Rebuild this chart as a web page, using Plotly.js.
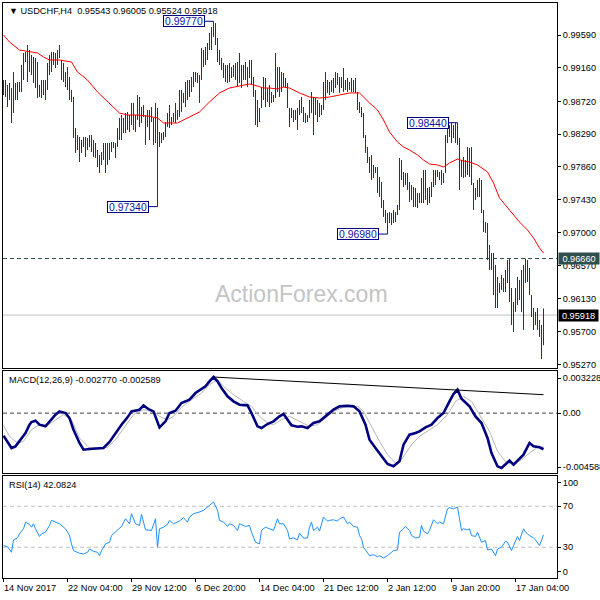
<!DOCTYPE html>
<html><head><meta charset="utf-8">
<script src="https://cdn.plot.ly/plotly-3.0.1.min.js"></script>
<style>html,body{margin:0;padding:0;background:#fff}#chart{width:600px;height:600px}</style>
</head><body><div id="chart"></div>
<script>
// USDCHF H4 bars (high/low; bars drawn as plain high-low lines)
const highs=[
0.99000,0.99000,0.98935,0.98961,0.98895,0.99105,0.98961,0.98974,0.98974,0.99197,
0.99354,0.99367,0.99459,0.99393,0.99328,0.99302,0.99288,0.99236,0.98935,0.99000,
0.99000,0.99000,0.99223,0.99328,0.99367,0.99367,0.99354,0.99393,0.99459,0.99262,
0.99223,0.99105,0.99170,0.99039,0.98869,0.98777,0.98371,0.98279,0.98253,0.98213,
0.98253,0.98253,0.98240,0.98279,0.98279,0.98213,0.98174,0.98082,0.98017,0.98056,
0.98174,0.98174,0.98174,0.98174,0.98187,0.98187,0.98174,0.98371,0.98502,0.98541,
0.98502,0.98567,0.98581,0.98541,0.98699,0.98699,0.98541,0.98803,0.98777,0.98646,
0.98672,0.98541,0.98607,0.98607,0.98646,0.98502,0.98699,0.98633,0.98318,0.98305,
0.98318,0.98449,0.98567,0.98672,0.98515,0.98567,0.98699,0.98607,0.98869,0.98869,
0.98830,0.98974,0.99000,0.99000,0.99039,0.99105,0.99105,0.99092,0.99066,0.99420,
0.99393,0.99433,0.99485,0.99616,0.99695,0.99770,0.99747,0.99551,0.99393,0.99288,
0.99223,0.99197,0.99197,0.99223,0.99170,0.99197,0.99223,0.99236,0.99354,0.99197,
0.99197,0.99236,0.99170,0.99262,0.99262,0.99039,0.98869,0.98738,0.98633,0.98908,
0.99039,0.99026,0.98895,0.98935,0.98843,0.98803,0.99354,0.99170,0.99170,0.99105,
0.99092,0.99026,0.98961,0.98633,0.98633,0.98607,0.98607,0.98633,0.98738,0.98777,
0.98646,0.98567,0.98541,0.98738,0.98843,0.98777,0.98764,0.98738,0.98699,0.98672,
0.98974,0.99105,0.99000,0.98974,0.99000,0.99026,0.99105,0.99092,0.99039,0.99039,
0.99157,0.99000,0.99026,0.98974,0.99026,0.99000,0.99026,0.98843,0.98712,0.98646,
0.98567,0.98279,0.98122,0.97991,0.98017,0.97886,0.97859,0.97859,0.97728,0.97663,
0.97427,0.97296,0.97256,0.97269,0.97256,0.97296,0.97269,0.97361,0.97977,0.97951,
0.97794,0.97781,0.97781,0.97663,0.97623,0.97597,0.97584,0.97519,0.97519,0.97715,
0.97820,0.97820,0.97584,0.97597,0.97663,0.97820,0.97820,0.97820,0.97794,0.97820,
0.97781,0.98279,0.98410,0.98410,0.98436,0.98410,0.98436,0.98440,0.98240,0.97951,
0.97991,0.97951,0.98122,0.98109,0.98122,0.97650,0.97584,0.97689,0.97715,0.97689,
0.97296,0.97138,0.97125,0.96837,0.96732,0.96732,0.96575,0.96417,0.96339,0.96444,
0.96404,0.96509,0.96640,0.96660,0.96273,0.96090,0.96273,0.96417,0.96378,0.96509,
0.96575,0.96660,0.96640,0.96536,0.96181,0.96011,0.95959,0.96011,0.95854,0.95788,
0.96005];
const lows=[
0.98803,0.98777,0.98646,0.98738,0.98436,0.98567,0.98738,0.98738,0.98843,0.98843,
0.99000,0.99236,0.98974,0.99105,0.99066,0.98961,0.98895,0.98764,0.98777,0.98764,
0.98803,0.98738,0.98869,0.99066,0.99105,0.99197,0.99157,0.99197,0.99288,0.99000,
0.98974,0.98908,0.98869,0.98738,0.98712,0.98240,0.98043,0.98082,0.97925,0.98043,
0.98122,0.97991,0.98082,0.98122,0.98056,0.97991,0.97977,0.97859,0.97781,0.97886,
0.97951,0.97781,0.97886,0.97951,0.98056,0.98109,0.97977,0.98122,0.98213,0.98213,
0.98305,0.98305,0.98345,0.98318,0.98410,0.98345,0.98318,0.98476,0.98384,0.98436,
0.98515,0.98148,0.98384,0.98213,0.98449,0.98148,0.98174,0.97340,0.98122,0.98174,
0.98213,0.98253,0.98384,0.98371,0.98410,0.98449,0.98436,0.98476,0.98515,0.98581,
0.98699,0.98646,0.98738,0.98777,0.98843,0.98908,0.98974,0.98961,0.98699,0.99000,
0.99170,0.99197,0.99262,0.99393,0.99393,0.99564,0.99459,0.99236,0.99197,0.99131,
0.99026,0.98974,0.98961,0.98974,0.99026,0.99039,0.99000,0.98908,0.98961,0.98895,
0.99000,0.99000,0.98908,0.99026,0.98935,0.98777,0.98410,0.98384,0.98449,0.98633,
0.98738,0.98646,0.98712,0.98646,0.98699,0.98712,0.98764,0.98843,0.98777,0.98843,
0.98908,0.98895,0.98633,0.98384,0.98502,0.98449,0.98476,0.98345,0.98541,0.98567,
0.98449,0.98436,0.98449,0.98502,0.98567,0.98279,0.98541,0.98449,0.98515,0.98541,
0.98607,0.98738,0.98830,0.98803,0.98843,0.98830,0.98895,0.98935,0.98830,0.98895,
0.98843,0.98869,0.98843,0.98869,0.98843,0.98843,0.98830,0.98607,0.98567,0.98515,
0.98240,0.98043,0.97912,0.97781,0.97689,0.97715,0.97781,0.97519,0.97466,0.97322,
0.97204,0.97125,0.96980,0.97125,0.97099,0.97125,0.97138,0.97230,0.97296,0.97689,
0.97597,0.97623,0.97558,0.97401,0.97427,0.97335,0.97335,0.97322,0.97387,0.97387,
0.97387,0.97427,0.97361,0.97387,0.97466,0.97597,0.97623,0.97728,0.97689,0.97623,
0.97650,0.97781,0.98174,0.98253,0.98174,0.98240,0.98174,0.98148,0.97558,0.97728,
0.97715,0.97728,0.97755,0.97728,0.97623,0.97296,0.97427,0.97466,0.97466,0.97256,
0.97007,0.96994,0.96640,0.96509,0.96509,0.96181,0.96011,0.96011,0.96208,0.96247,
0.96221,0.96221,0.96339,0.96090,0.95788,0.95697,0.95959,0.96050,0.96116,0.95959,
0.95723,0.96339,0.96352,0.96181,0.95893,0.95723,0.95788,0.95723,0.95631,0.95342,
0.95524];

// Moving average (red), sampled [bar, price]
const maPoints=[[0,0.99590],[3,0.99498],[8,0.99393],[13,0.99367],[17,0.99354],[20,0.99302],[23,0.99262],[28,0.99262],[32,0.99249],[34,0.99236],[37,0.99105],[42,0.99000],[47,0.98843],[52,0.98712],[55,0.98633],[58,0.98567],[62,0.98541],[67,0.98541],[72,0.98528],[77,0.98502],[80,0.98436],[83,0.98436],[87,0.98436],[89,0.98463],[93,0.98515],[98,0.98581],[103,0.98712],[108,0.98830],[113,0.98895],[118,0.98921],[123,0.98948],[127,0.98921],[130,0.98895],[133,0.98895],[137,0.98882],[140,0.98908],[143,0.98895],[148,0.98830],[153,0.98777],[158,0.98764],[163,0.98777],[168,0.98803],[173,0.98830],[178,0.98830],[180,0.98777],[183,0.98699],[187,0.98607],[190,0.98476],[193,0.98318],[197,0.98187],[200,0.98122],[203,0.98082],[207,0.98017],[210,0.97951],[213,0.97899],[217,0.97886],[220,0.97859],[223,0.97912],[227,0.97964],[230,0.97938],[233,0.97925],[237,0.97886],[242,0.97794],[245,0.97650],[248,0.97453],[253,0.97296],[258,0.97138],[262,0.97033],[265,0.96929],[268,0.96798],[270,0.96732]];

// MACD(12,26,9) main line, sampled [bar, value]
const macdPoints=[[0,-0.001728],[2,-0.002162],[4,-0.002673],[6,-0.002545],[8,-0.002162],[11,-0.001524],[13,-0.000886],[14,-0.000682],[16,-0.000580],[18,-0.000886],[21,-0.001014],[23,-0.000631],[26,-0.000120],[28,0.000135],[31,0.000008],[33,-0.000375],[35,-0.001269],[38,-0.002290],[40,-0.002801],[43,-0.002750],[47,-0.002724],[50,-0.002673],[53,-0.002213],[56,-0.001524],[59,-0.000886],[62,-0.000324],[64,0.000135],[68,0.000263],[70,0.000595],[73,0.000263],[75,0.000135],[78,-0.001090],[81,-0.000631],[83,0.000008],[86,0.000186],[89,0.000774],[93,0.001029],[96,0.001539],[98,0.001718],[101,0.002050],[103,0.002433],[105,0.002765],[107,0.002433],[109,0.001922],[112,0.001284],[115,0.000901],[118,0.000646],[122,0.000595],[124,0.000008],[127,-0.001014],[129,-0.001141],[132,-0.000835],[135,-0.000631],[138,-0.000248],[140,-0.000069],[142,-0.000503],[144,-0.000937],[147,-0.001039],[149,-0.001014],[152,-0.001141],[155,-0.000758],[158,-0.000631],[162,-0.000120],[165,0.000263],[168,0.000518],[172,0.000569],[175,0.000518],[178,0.000135],[181,-0.000886],[183,-0.002035],[186,-0.002673],[189,-0.003311],[192,-0.003898],[195,-0.004077],[198,-0.003694],[200,-0.002418],[203,-0.001652],[206,-0.001524],[208,-0.001396],[211,-0.001090],[214,-0.000886],[217,-0.000375],[220,0.000008],[223,0.000901],[225,0.001463],[227,0.001795],[229,0.001105],[233,0.000518],[236,-0.000248],[239,-0.000758],[242,-0.001907],[244,-0.003056],[247,-0.004077],[249,-0.004205],[253,-0.003643],[255,-0.003949],[258,-0.003439],[260,-0.003184],[263,-0.002290],[265,-0.002545],[268,-0.002622],[270,-0.002770]];

// MACD signal line, sampled [bar, value]
const signalPoints=[[0,-0.000937],[3,-0.001779],[7,-0.002290],[10,-0.002162],[14,-0.001269],[18,-0.000886],[22,-0.000937],[26,-0.000503],[30,-0.000120],[34,-0.000503],[38,-0.001907],[43,-0.002673],[48,-0.002673],[52,-0.002622],[56,-0.002035],[61,-0.001014],[65,-0.000120],[70,0.000263],[75,0.000135],[78,-0.000248],[82,-0.000503],[85,-0.000248],[89,0.000442],[94,0.001029],[99,0.001539],[103,0.002178],[107,0.002561],[110,0.002050],[115,0.001412],[120,0.000901],[124,0.000518],[128,-0.000248],[132,-0.000758],[135,-0.000886],[139,-0.000503],[143,-0.000248],[148,-0.000631],[153,-0.001014],[157,-0.000886],[161,-0.000375],[165,0.000135],[170,0.000442],[177,0.000518],[180,0.000135],[184,-0.001014],[188,-0.002162],[192,-0.003184],[196,-0.003822],[199,-0.003567],[204,-0.002418],[208,-0.001779],[212,-0.001396],[217,-0.000886],[222,-0.000120],[226,0.000901],[230,0.001284],[234,0.000901],[238,-0.000120],[243,-0.001396],[247,-0.002928],[251,-0.003694],[255,-0.003949],[259,-0.003567],[263,-0.003056],[267,-0.002622],[270,-0.002589]];

// MACD trend line drawn on the chart
const trendPoints=[[105,0.002765],[270,0.001412]];

// RSI(14), sampled [bar, value]
const rsiPoints=[[0,31.6],[2,30.6],[4,25.1],[5,37.2],[7,39.1],[8,43.1],[10,48.0],[11,54.5],[13,52.3],[14,49.6],[15,52.9],[16,48.0],[18,40.5],[19,43.1],[21,44.7],[23,51.3],[24,56.2],[26,54.5],[28,52.9],[31,48.0],[33,41.4],[34,33.3],[35,26.7],[38,24.1],[40,23.4],[42,25.1],[43,28.3],[45,26.0],[47,25.1],[48,21.8],[49,26.7],[51,33.3],[53,34.9],[54,41.4],[56,44.7],[58,48.0],[59,50.3],[61,57.8],[63,52.9],[64,62.7],[66,52.9],[68,51.3],[69,62.1],[71,47.0],[73,46.4],[74,46.4],[76,57.8],[77,30.0],[78,48.0],[80,49.6],[82,52.3],[83,56.2],[85,52.9],[87,54.5],[88,55.5],[90,58.8],[92,54.5],[93,59.5],[95,62.7],[98,64.4],[100,66.0],[103,70.9],[105,74.2],[107,66.0],[108,56.2],[110,54.5],[112,50.3],[113,52.9],[115,51.3],[117,46.4],[118,52.9],[121,50.3],[123,51.3],[124,44.7],[126,34.9],[128,33.3],[129,46.4],[131,49.6],[133,48.0],[135,46.4],[137,57.8],[138,52.9],[140,52.9],[142,46.4],[143,38.2],[145,39.1],[147,37.2],[148,43.7],[150,38.8],[152,39.1],[153,49.6],[154,54.5],[155,46.4],[157,49.6],[158,45.7],[160,59.5],[162,55.5],[163,56.2],[165,56.8],[167,55.5],[168,57.8],[170,59.5],[172,52.9],[173,54.5],[175,50.3],[177,49.6],[178,41.4],[179,38.2],[180,30.0],[182,25.1],[183,21.8],[185,22.8],[187,20.8],[188,21.8],[190,19.5],[192,21.8],[193,23.4],[195,26.7],[197,27.4],[198,44.7],[200,48.0],[201,50.3],[203,46.4],[204,41.4],[206,39.1],[208,39.8],[209,51.3],[210,45.7],[212,43.1],[213,46.4],[215,56.8],[217,52.9],[218,54.5],[220,52.9],[222,67.6],[223,68.6],[225,67.6],[227,69.3],[228,57.8],[229,46.4],[230,48.0],[232,47.0],[233,48.0],[234,41.4],[236,40.5],[237,44.7],[239,34.9],[241,36.5],[242,27.4],[244,28.3],[246,21.8],[247,28.3],[249,30.0],[251,35.9],[252,34.9],[254,26.7],[255,31.6],[257,40.5],[258,36.5],[260,48.0],[261,44.7],[263,41.4],[265,39.1],[266,37.2],[268,31.6],[270,42.0824]];

const priceTicks=[0.99590,0.99160,0.98720,0.98290,0.97860,0.97430,0.97000,0.96570,0.96130,0.95700,0.95270];
const levelLine=0.96660;
const lastPrice=0.95918;
const rsiLevels=[70,30];
const callouts=[{bar:105,price:0.99770},{bar:77,price:0.97340},{bar:192,price:0.96980},{bar:227,price:0.98440}];
const timeTickBars=[0,32,64,96,128,160,192,224,256];
const timeTickLabels=['14 Nov 2017','22 Nov 04:00','29 Nov 12:00','6 Dec 20:00','14 Dec 04:00','21 Dec 12:00','2 Jan 12:00','9 Jan 20:00','17 Jan 04:00'];
const headerText='USDCHF,H4\u00a0\u00a00.95543 0.96005 0.95524 0.95918';
const macdText='MACD(12,26,9) -0.002770 -0.002589';
const rsiText='RSI(14) 42.0824';

const FONT='Liberation Sans, Arial, sans-serif';
const FS=9.2;
const barIdx=highs.map((_,i)=>i);
const px=a=>a.map(p=>p[0]), py=a=>a.map(p=>p[1]);

const traces=[
 {type:'ohlc',x:barIdx,open:lows,high:highs,low:lows,close:highs,xaxis:'x',yaxis:'y',tickwidth:0,
  increasing:{line:{color:'#15395a',width:1}},decreasing:{line:{color:'#15395a',width:1}},hoverinfo:'skip'},
 {type:'scatter',mode:'lines',x:px(maPoints),y:py(maPoints),xaxis:'x',yaxis:'y',line:{color:'#ff0000',width:1},hoverinfo:'skip'},
 {type:'scatter',mode:'lines',x:px(signalPoints),y:py(signalPoints),xaxis:'x2',yaxis:'y2',line:{color:'#b8b8b8',width:1},hoverinfo:'skip'},
 {type:'scatter',mode:'lines',x:px(macdPoints),y:py(macdPoints),xaxis:'x2',yaxis:'y2',line:{color:'#00007f',width:2.6},hoverinfo:'skip'},
 {type:'scatter',mode:'lines',x:px(trendPoints),y:py(trendPoints),xaxis:'x2',yaxis:'y2',line:{color:'#000000',width:1},hoverinfo:'skip'},
 {type:'scatter',mode:'lines',x:px(rsiPoints),y:py(rsiPoints),xaxis:'x3',yaxis:'y3',line:{color:'#1e90ff',width:1},hoverinfo:'skip'}
];

const xBase={range:[-0.25,276.75],showline:true,mirror:true,linecolor:'#000',linewidth:1,showgrid:false,zeroline:false,showticklabels:false,ticks:'',fixedrange:true,rangeslider:{visible:false}};
const yBase={side:'right',showline:true,mirror:true,linecolor:'#000',linewidth:1,showgrid:false,zeroline:false,ticks:'outside',ticklen:3,tickcolor:'#000',tickwidth:1,fixedrange:true,tickfont:{family:FONT,size:FS,color:'#000'}};

const shapes=[
 {type:'line',xref:'paper',x0:0,x1:1,yref:'y',y0:lastPrice,y1:lastPrice,line:{color:'#c0c0c0',width:1},layer:'below'},
 {type:'line',xref:'paper',x0:0,x1:1,yref:'y',y0:levelLine,y1:levelLine,line:{color:'#2f4f4f',width:1,dash:'4px,3px'},layer:'below'},
 {type:'line',xref:'paper',x0:0,x1:1,yref:'y2',y0:0,y1:0,line:{color:'#404040',width:1,dash:'4px,3px'},layer:'below'}
].concat(rsiLevels.map(v=>({type:'line',xref:'paper',x0:0,x1:1,yref:'y3',y0:v,y1:v,line:{color:'#c0c0c0',width:1,dash:'4px,3px'},layer:'below'})));

const annotations=[
 {xref:'paper',yref:'paper',x:0.0072,y:0.9866,xanchor:'left',yanchor:'middle',showarrow:false,
  text:'<span style="font-size:9px">\u25BC</span>\u00a0'+headerText,font:{family:FONT,size:FS,color:'#000'}},
 {xref:'paper',yref:'paper',x:0.0072,y:0.3449,xanchor:'left',yanchor:'middle',showarrow:false,text:macdText,font:{family:FONT,size:FS,color:'#000'}},
 {xref:'paper',yref:'paper',x:0.0072,y:0.1623,xanchor:'left',yanchor:'middle',showarrow:false,text:rsiText,font:{family:FONT,size:FS,color:'#000'}},
 {xref:'paper',yref:'paper',x:0.538,y:0.4939,xanchor:'center',yanchor:'middle',showarrow:false,text:'ActionForex.com',font:{family:FONT,size:23,color:'#c4c4c4'}},
 {xref:'paper',yref:'y',x:1,y:levelLine,xanchor:'left',yanchor:'middle',xshift:1,showarrow:false,text:levelLine.toFixed(5),
  bgcolor:'#2f4f4f',borderpad:1,width:38,height:9,font:{family:FONT,size:FS,color:'#ffffff'}},
 {xref:'paper',yref:'y',x:1,y:lastPrice,xanchor:'left',yanchor:'middle',xshift:1,showarrow:false,text:lastPrice.toFixed(5),
  bgcolor:'#000000',borderpad:1,width:37,height:9,font:{family:FONT,size:FS,color:'#ffffff'}}
].concat(callouts.map(c=>({xref:'x',yref:'y',x:c.bar,y:c.price,text:c.price.toFixed(5),showarrow:true,arrowhead:0,arrowwidth:1,
  arrowcolor:'#000080',ax:-30,ay:0,standoff:0,bgcolor:'#ffffff',bordercolor:'#000080',borderwidth:1,borderpad:0,width:40,height:10,
  font:{family:FONT,size:10.4,color:'#1010a0'}})))
 .concat(timeTickBars.map((b,i)=>({xref:'x3',yref:'paper',x:b,y:-0.0174,xanchor:'left',yanchor:'middle',xshift:-2,showarrow:false,
  text:timeTickLabels[i],font:{family:FONT,size:FS,color:'#000'}})));

const layout={
 width:600,height:600,margin:{l:3,r:43,t:3,b:22,pad:0},
 paper_bgcolor:'#ffffff',plot_bgcolor:'#ffffff',showlegend:false,
 font:{family:FONT,size:FS,color:'#000'},
 xaxis:Object.assign({},xBase,{anchor:'y',domain:[0,1]}),
 xaxis2:Object.assign({},xBase,{anchor:'y2',domain:[0,1],matches:'x'}),
 xaxis3:Object.assign({},xBase,{anchor:'y3',domain:[0,1],matches:'x',ticks:'outside',ticklen:3,tickcolor:'#000',tickvals:timeTickBars}),
 yaxis:Object.assign({},yBase,{anchor:'x',domain:[0.36522,1],range:[0.95224,1.000095],tickvals:priceTicks,ticktext:priceTicks.map(v=>v.toFixed(5))}),
 yaxis2:Object.assign({},yBase,{anchor:'x2',domain:[0.18261,0.36],range:[-0.004588,0.003228],tickvals:[0.002689,0,-0.004129],ticktext:['0.003228','0.00','-0.004588']}),
 yaxis3:Object.assign({},yBase,{anchor:'x3',domain:[0,0.17826],range:[0,100],tickvals:[92.7,70,30,5.9],ticktext:['100','70','30','0']}),
 shapes:shapes,annotations:annotations
};

Plotly.newPlot('chart',traces,layout,{staticPlot:true,displayModeBar:false});
</script></body></html>
